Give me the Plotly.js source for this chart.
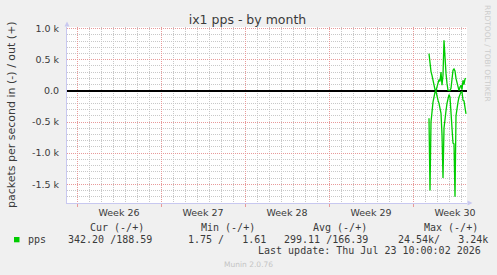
<!DOCTYPE html>
<html><head><meta charset="utf-8">
<script src="https://cdn.plot.ly/plotly-3.0.1.min.js"></script>
<style>html,body{margin:0;padding:0;background:#f0f0f0;}#chart{width:497px;height:275px;}</style>
</head><body><div id="chart"></div>
<script>
// ---- data ----
const chartTitle = 'ix1 pps - by month';
const yTitle = 'packets per second in (-) / out (+)';
const weekLabels = ['Week 26', 'Week 27', 'Week 28', 'Week 29', 'Week 30'];
const weekMidDays = [3.5, 10.5, 17.5, 24.5, 31.5];
const yTickVals = [-1500, -1000, -500, 0, 500, 1000];
const yTickText = ['-1.5 k', '-1.0 k', '-0.5 k', '0.0', '0.5 k', '1.0 k'];
// samples every 2 hours, first sample at day 29.333 (days since start of Week 26)
const firstSampleDay = 29.333;
const sampleStepDays = 2 / 24;
const outPps = [597, 440, 310, 250, 160, 80, 20, 5, 60, 140, 180, 150, 300, 90, 250, 810, 490, 280, 120, 10,
                5, 5, 40, 180, 330, 350, 320, 200, 120, 60, 5, 60, 90, 20, 170, 100, 190, 200];
const inPps = [440, 1600, 500, 260, 180, 100, 20, 10, 100, 150, 200, 260, 360, 700, 1400, 600, 400, 320, 200, 100,
               60, 100, 300, 600, 840, 850, 1700, 400, 250, 180, 100, 50, 20, 10, 150, 160, 300, 370];
const seriesName = 'pps';
const legendHeaders = ['Cur (-/+)', 'Min (-/+)', 'Avg (-/+)', 'Max (-/+)'];
const legendValues = ['342.20 /188.59', '1.75 /   1.61', '299.11 /166.39', '24.54k/   3.24k'];
const lastUpdate = 'Last update: Thu Jul 23 10:00:02 2026';
const footer = 'Munin 2.0.76';
const sideText = 'RRDTOOL / TOBI OETIKER';

// ---- layout helpers ----
const W = 497, H = 275, L = 67, R = 467, T = 27, B = 203;
const px = x => (x - L) / (R - L);
const py = y => (B - y) / (B - T);
const times = outPps.map((_, i) => firstSampleDay + i * sampleStepDays);
const green = '#00cc00';
const red = '#e89a9a';
const minorGrid = '#c8c8c8';
const txt = '#3a3a3a';
const mono = 'DejaVu Sans Mono, monospace';
const sans = 'DejaVu Sans, sans-serif';
const nb = s => s.replace(/ /g, '\u00a0');
const dots = '1px,1px';

const traces = [
  {x: times, y: outPps, type: 'scatter', mode: 'lines', line: {color: green, width: 1.3}, hoverinfo: 'skip', name: 'out'},
  {x: times, y: inPps.map(v => -v), type: 'scatter', mode: 'lines', line: {color: green, width: 1.3}, hoverinfo: 'skip', name: 'in'},
  // carrier for the week label axis (draws nothing)
  {x: weekMidDays, y: weekMidDays.map(() => null), xaxis: 'x2', yaxis: 'y', type: 'scatter', mode: 'lines', hoverinfo: 'skip', name: 'weeks'}
];

const ann = [];
const addText = (text, x, y, opts) => ann.push(Object.assign({
  text: nb(text), x: px(x), y: py(y), xref: 'paper', yref: 'paper', showarrow: false,
  xanchor: 'left', yanchor: 'middle', font: {family: mono, size: 10, color: txt}, borderpad: 0
}, opts || {}));
[89.3, 200.3, 312.3, 423].forEach((x, i) => addText(legendHeaders[i], x, 227.7));
addText(seriesName, 26.7, 239.3);
[66.7, 187.3, 282.7, 397.3].forEach((x, i) => addText(legendValues[i], x, 239.3));
addText(lastUpdate, 482.3, 250.7, {xanchor: 'right'});
addText(footer, 248, 264, {xanchor: 'center', font: {family: sans, size: 7.5, color: '#c4c4c4'}});
addText(sideText, 488, 53, {xanchor: 'center', textangle: 90, font: {family: sans, size: 7.5, color: '#cccccc'}});
addText(yTitle, 11, 115, {xanchor: 'center', textangle: -90, font: {family: sans, size: 11, color: txt}});

const axisCol = '#c8c8f0';
const shapes = [
  {type: 'rect', xref: 'paper', yref: 'paper', x0: px(14), x1: px(19.5), y0: py(242.3), y1: py(237), fillcolor: green, line: {width: 0}},
  {type: 'path', xref: 'paper', yref: 'paper', path: `M ${px(64.5)} ${py(26.5)} L ${px(69.5)} ${py(26.5)} L ${px(67)} ${py(21.5)} Z`, fillcolor: axisCol, line: {width: 0}},
  {type: 'path', xref: 'paper', yref: 'paper', path: `M ${px(467.5)} ${py(200.5)} L ${px(467.5)} ${py(205.5)} L ${px(472.5)} ${py(203)} Z`, fillcolor: axisCol, line: {width: 0}}
];

const layout = {
  width: W, height: H,
  margin: {l: L, r: W - R, t: T, b: H - B, pad: 0},
  paper_bgcolor: '#f0f0f0', plot_bgcolor: '#ffffff',
  showlegend: false,
  title: {text: chartTitle, x: 0.498, xref: 'container', xanchor: 'center', y: 1 - 19.3 / H, yref: 'container', yanchor: 'middle',
          font: {family: sans, size: 12.5, color: txt}},
  xaxis: {range: [-10 / 12, 32.5], tickmode: 'linear', tick0: 0, dtick: 7, showticklabels: false,
          showgrid: true, gridcolor: red, griddash: dots, gridwidth: 1,
          ticks: 'outside', ticklen: 3, tickcolor: red,
          minor: {tickmode: 'linear', tick0: 0, dtick: 1, showgrid: true, gridcolor: minorGrid, griddash: dots, gridwidth: 1},
          zeroline: false, showline: true, linecolor: axisCol, linewidth: 1, fixedrange: true},
  xaxis2: {range: [-10 / 12, 32.5], overlaying: 'x', anchor: 'y', side: 'bottom', tickmode: 'array', tickvals: weekMidDays, ticktext: weekLabels,
           showgrid: false, zeroline: false, showline: false, ticks: '', ticklabelstandoff: 2,
           tickfont: {family: sans, size: 9.5, color: txt}, fixedrange: true},
  yaxis: {range: [-1800, 1025], tickmode: 'array', tickvals: yTickVals, ticktext: yTickText,
          showgrid: true, gridcolor: red, griddash: dots, gridwidth: 1, ticks: '', ticklabelstandoff: 5,
          minor: {tickmode: 'linear', tick0: 0, dtick: 100, showgrid: true, gridcolor: minorGrid, griddash: dots, gridwidth: 1},
          tickfont: {family: sans, size: 9.5, color: txt},
          zeroline: true, zerolinecolor: '#000000', zerolinewidth: 1.3,
          showline: true, linecolor: axisCol, linewidth: 1, fixedrange: true},
  annotations: ann,
  shapes: shapes
};
Plotly.newPlot('chart', traces, layout, {staticPlot: true, displayModeBar: false});
</script></body></html>
